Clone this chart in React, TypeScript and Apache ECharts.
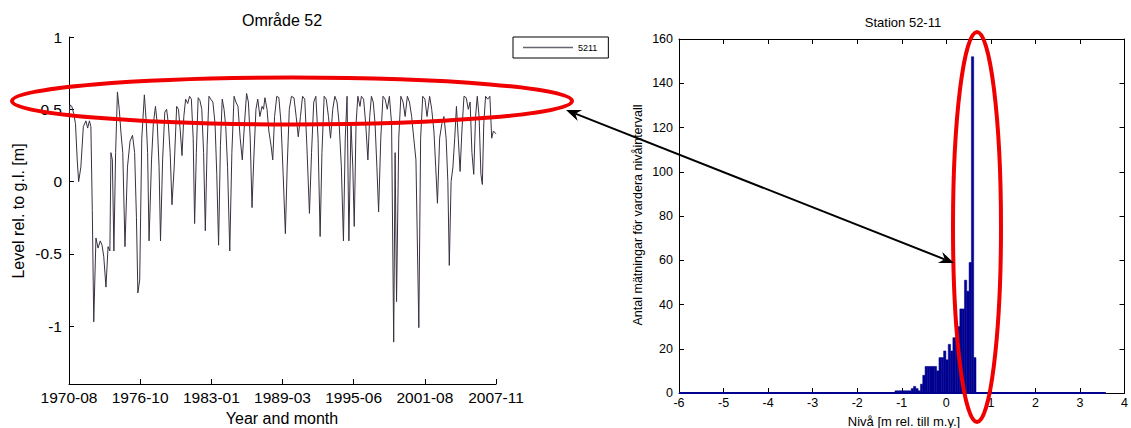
import React, { useEffect, useRef } from "react";
import * as echarts from "echarts";

const FONT = '"Liberation Sans", Arial, Helvetica, sans-serif';

// Left chart: level relative to ground level, x = months since 1970-08
const xTickLabels = ["1970-08", "1976-10", "1983-01", "1989-03", "1995-06", "2001-08", "2007-11"];
const monthsPerTick = 74.5;
const yTickValues = [-1, -0.5, 0, 0.5, 1];
const seriesName = "5211";
const levelSeries: [number, number][] = [
  [0, 0.45], [1.1, 0.53], [3.0, 0.52], [4.9, 0.47], [6.8, 0.40], [8.6, 0.15], [10.1, 0.00], [12.4, 0.10],
  [15.0, 0.38], [17.7, 0.42], [19.5, 0.37], [21.4, 0.42], [22.9, 0.38], [24.4, -0.20], [25.9, -0.97], [28.2, -0.39],
  [30.4, -0.46], [32.7, -0.41], [34.6, -0.44], [36.4, -0.52], [38.7, -0.73], [40.9, -0.45], [42.8, -0.48], [43.9, 0.20],
  [45.4, 0.15], [47.0, -0.48], [48.8, 0.20], [50.7, 0.62], [52.6, 0.50], [54.5, 0.33], [56.3, 0.20], [58.6, -0.45],
  [61.2, 0.10], [63.9, 0.28], [66.5, 0.32], [68.7, 0.20], [70.6, -0.25], [72.1, -0.77], [74.0, -0.68], [76.2, 0.30],
  [78.9, 0.60], [80.8, 0.42], [82.3, 0.20], [83.8, -0.41], [86.4, 0.15], [88.3, 0.40], [90.5, 0.52], [92.4, 0.40],
  [94.3, 0.10], [95.8, -0.41], [98.0, 0.15], [100.3, 0.48], [102.2, 0.50], [104.0, 0.40], [105.9, 0.20], [107.8, -0.16],
  [110.1, 0.10], [112.7, 0.52], [114.6, 0.50], [116.5, 0.35], [118.3, 0.18], [120.2, 0.45], [122.1, 0.57], [124.3, 0.54],
  [126.2, 0.59], [128.1, 0.57], [130.0, 0.30], [131.5, -0.29], [133.3, 0.20], [135.2, 0.58], [137.1, 0.56], [139.0, 0.50],
  [140.9, 0.20], [142.7, -0.34], [144.6, 0.25], [146.5, 0.59], [148.4, 0.57], [150.6, 0.55], [152.9, 0.40], [154.7, 0.05],
  [156.6, -0.44], [158.5, 0.25], [160.4, 0.57], [162.3, 0.50], [164.1, 0.38], [166.0, 0.10], [168.3, -0.48], [170.5, 0.20],
  [172.8, 0.59], [174.7, 0.55], [176.9, 0.52], [179.2, 0.30], [181.4, 0.15], [183.7, 0.40], [185.9, 0.61], [187.8, 0.55],
  [189.7, 0.30], [191.6, -0.18], [193.4, 0.15], [195.7, 0.50], [197.6, 0.57], [199.8, 0.45], [202.1, 0.52], [203.6, 0.50],
  [205.1, 0.58], [207.3, 0.50], [209.2, 0.35], [211.5, 0.25], [213.3, 0.15], [215.2, 0.45], [217.5, 0.59], [219.7, 0.58],
  [222.0, 0.40], [224.2, 0.05], [226.5, -0.36], [228.4, 0.10], [230.6, 0.50], [232.9, 0.59], [235.5, 0.58], [237.8, 0.45],
  [240.0, 0.31], [242.3, 0.45], [244.5, 0.59], [246.8, 0.57], [249.0, 0.25], [251.7, -0.22], [253.9, 0.20], [256.2, 0.55],
  [258.4, 0.59], [260.7, 0.30], [262.9, -0.38], [264.8, 0.20], [267.1, 0.59], [269.3, 0.57], [271.6, 0.45], [273.8, 0.30],
  [276.1, 0.50], [278.3, 0.59], [280.6, 0.55], [282.8, 0.40], [285.1, 0.10], [287.3, -0.41], [289.2, 0.30], [291.1, 0.59],
  [293.0, -0.41], [295.2, 0.40], [297.1, 0.10], [298.6, -0.31], [300.5, 0.40], [302.4, 0.59], [304.6, 0.52], [306.1, 0.59],
  [308.4, 0.57], [310.6, 0.40], [312.9, 0.15], [314.8, 0.45], [316.6, 0.59], [318.5, 0.55], [320.4, 0.40], [322.3, 0.10],
  [324.1, -0.21], [326.4, 0.30], [328.7, 0.59], [330.9, 0.57], [333.2, 0.50], [335.4, 0.59], [337.7, 0.40], [339.9, -1.11],
  [341.4, 0.20], [342.9, -0.83], [345.2, 0.30], [347.4, 0.59], [349.7, 0.55], [351.9, 0.45], [354.2, 0.59], [356.4, 0.55],
  [358.7, 0.45], [360.9, 0.30], [363.2, 0.15], [366.2, -1.01], [368.1, 0.30], [370.3, 0.59], [372.6, 0.57], [374.8, 0.45],
  [377.5, 0.59], [379.7, 0.50], [382.0, 0.35], [383.9, 0.10], [385.7, -0.15], [388.0, 0.30], [390.3, 0.40], [392.5, 0.45],
  [394.8, 0.30], [396.6, 0.00], [398.1, -0.58], [400.0, 0.00], [401.9, 0.10], [403.8, 0.30], [405.6, 0.52], [407.5, 0.30],
  [409.4, 0.07], [411.3, 0.35], [413.5, 0.59], [415.8, 0.58], [418.0, 0.50], [419.9, 0.55], [421.8, 0.20], [423.7, 0.05],
  [425.6, 0.45], [427.4, 0.59], [429.3, 0.45], [431.2, 0.05], [432.7, -0.02], [434.2, 0.40], [436.1, 0.59], [438.3, 0.57],
  [440.6, 0.59], [442.5, 0.30], [444.3, 0.35], [447.0, 0.33],
];

// Right chart: histogram of levels
const histStart = -1.153;
const histBinWidth = 0.052;
const histCounts = [
  1, 1, 1, 1, 1, 1, 1, 2, 3, 2, 1, 4, 8, 12, 12, 12, 12, 12, 10, 16, 16, 19, 15, 22, 19, 25, 25, 30, 38, 38, 51, 46, 59, 152, 16,
];
const histZeroRange: [number, number] = [-6, 3.58];

const LINE_COLOR = "#3a3040";
const BAR_COLOR = "#000090";
const RED = "#f00000";

function arrowHead(tx: number, ty: number, ux: number, uy: number) {
  const nx = -uy;
  const ny = ux;
  const L = 15;
  const W = 6;
  return [
    [tx, ty],
    [tx - L * ux + W * nx, ty - L * uy + W * ny],
    [tx - 10 * ux, ty - 10 * uy],
    [tx - L * ux - W * nx, ty - L * uy - W * ny],
  ];
}

export default function App() {
  const ref = useRef<HTMLDivElement>(null);
  useEffect(() => {
    if (!ref.current) return;
    const chart = echarts.init(ref.current, undefined, { renderer: "svg" });

    const axisLineStyle = { color: "#000", width: 1 };
    const a0 = [566, 110];
    const a1 = [954, 263];
    const dx = a1[0] - a0[0];
    const dy = a1[1] - a0[1];
    const len = Math.hypot(dx, dy);
    const ux = dx / len;
    const uy = dy / len;

    const text = (t: string, x: number, y: number, size: number, rotation = 0) => ({
      type: "text",
      x,
      y,
      rotation,
      z: 50,
      style: {
        text: t,
        align: "center",
        verticalAlign: "middle",
        fontSize: size,
        fontFamily: FONT,
        fill: "#000",
      },
    });

    chart.setOption({
      animation: false,
      backgroundColor: "#fff",
      textStyle: { fontFamily: FONT },
      grid: [
        { left: 69, top: 37, width: 427, height: 347 },
        { left: 679, top: 39, width: 450, height: 354 },
      ],
      legend: {
        data: [{ name: seriesName, icon: "rect" }],
        left: 513,
        top: 37,
        itemWidth: 50,
        itemHeight: 1.5,
        itemGap: 0,
        padding: [5, 11, 5, 10],
        borderColor: "#000",
        borderWidth: 1,
        borderRadius: 0,
        backgroundColor: "#fff",
        selectedMode: false,
        itemStyle: { color: "#6a6370" },
        textStyle: { fontSize: 9, fontFamily: FONT, color: "#000", lineHeight: 11 },
      },
      xAxis: [
        {
          type: "value",
          gridIndex: 0,
          min: 0,
          max: 447,
          interval: monthsPerTick,
          axisLine: { show: true, onZero: false, lineStyle: axisLineStyle },
          axisTick: { show: true, inside: true, length: 5, lineStyle: axisLineStyle },
          axisLabel: {
            show: true,
            fontSize: 15.5,
            fontFamily: FONT,
            color: "#000",
            margin: 5,
            showMinLabel: true,
            showMaxLabel: true,
            formatter: (v: number) => xTickLabels[Math.round(v / monthsPerTick)] ?? "",
          },
          splitLine: { show: false },
        },
        {
          type: "value",
          gridIndex: 1,
          min: -6,
          max: 4,
          interval: 1,
          axisLine: { show: true, onZero: false, lineStyle: axisLineStyle },
          axisTick: { show: true, inside: true, length: 5, lineStyle: axisLineStyle },
          axisLabel: {
            show: true,
            fontSize: 12.5,
            fontFamily: FONT,
            color: "#000",
            margin: 3,
            showMinLabel: true,
            showMaxLabel: true,
          },
          splitLine: { show: false },
        },
        {
          type: "value",
          gridIndex: 1,
          position: "top",
          min: -6,
          max: 4,
          interval: 1,
          axisLine: { show: true, onZero: false, lineStyle: axisLineStyle },
          axisTick: { show: true, inside: true, length: 5, lineStyle: axisLineStyle },
          axisLabel: { show: false },
          splitLine: { show: false },
        },
      ],
      yAxis: [
        {
          type: "value",
          gridIndex: 0,
          min: -1.4,
          max: 1,
          axisLine: { show: true, onZero: false, lineStyle: axisLineStyle },
          axisTick: { show: true, inside: true, length: 5, lineStyle: axisLineStyle, customValues: yTickValues },
          axisLabel: {
            show: true,
            fontSize: 15.5,
            fontFamily: FONT,
            color: "#000",
            margin: 7,
            customValues: yTickValues,
            formatter: (v: number) => String(v),
          },
          splitLine: { show: false },
        },
        {
          type: "value",
          gridIndex: 1,
          min: 0,
          max: 160,
          interval: 20,
          axisLine: { show: true, onZero: false, lineStyle: axisLineStyle },
          axisTick: { show: true, inside: true, length: 5, lineStyle: axisLineStyle },
          axisLabel: { show: true, fontSize: 12.5, fontFamily: FONT, color: "#000", margin: 6 },
          splitLine: { show: false },
        },
        {
          type: "value",
          gridIndex: 1,
          position: "right",
          min: 0,
          max: 160,
          interval: 20,
          axisLine: { show: true, onZero: false, lineStyle: axisLineStyle },
          axisTick: { show: true, inside: true, length: 5, lineStyle: axisLineStyle },
          axisLabel: { show: false },
          splitLine: { show: false },
        },
      ],
      series: [
        {
          name: seriesName,
          type: "line",
          xAxisIndex: 0,
          yAxisIndex: 0,
          data: levelSeries,
          symbol: "none",
          lineStyle: { color: LINE_COLOR, width: 1 },
          itemStyle: { color: LINE_COLOR },
          clip: true,
        },
        {
          type: "line",
          xAxisIndex: 1,
          yAxisIndex: 1,
          data: [
            [histZeroRange[0], 0],
            [histZeroRange[1], 0],
          ],
          symbol: "none",
          clip: false,
          lineStyle: { color: BAR_COLOR, width: 2 },
          z: 3,
        },
        {
          type: "custom",
          xAxisIndex: 1,
          yAxisIndex: 1,
          data: histCounts.map((c, i) => [histStart + i * histBinWidth, histStart + (i + 1) * histBinWidth, c]),
          encode: { x: [0, 1], y: 2 },
          renderItem: (_params: any, api: any) => {
            const p0 = api.coord([api.value(0), api.value(2)]);
            const p1 = api.coord([api.value(1), 0]);
            return {
              type: "rect",
              shape: { x: p0[0], y: p0[1], width: p1[0] - p0[0], height: p1[1] - p0[1] },
              style: { fill: BAR_COLOR, stroke: BAR_COLOR, lineWidth: 0.5 },
            };
          },
          z: 4,
        },
      ],
      graphic: [
        text("Område 52", 282, 20, 16),
        text("Year and month", 282, 418, 16),
        text("Level rel. to g.l. [m]", 18.5, 211, 16, Math.PI / 2),
        text("Station 52-11", 903, 22, 13),
        text("Antal mätningar för vardera nivåintervall", 638, 215, 12.5, Math.PI / 2),
        text("Nivå [m rel. till m.y.]", 904, 421, 13),
        {
          type: "ellipse",
          z: 60,
          shape: { cx: 292, cy: 101, rx: 280, ry: 23.5 },
          style: { fill: "transparent", stroke: RED, lineWidth: 4 },
        },
        {
          type: "ellipse",
          z: 60,
          shape: { cx: 977, cy: 227, rx: 24, ry: 195 },
          style: { fill: "transparent", stroke: RED, lineWidth: 4 },
        },
        {
          type: "line",
          z: 61,
          shape: { x1: a0[0] + 10 * ux, y1: a0[1] + 10 * uy, x2: a1[0] - 10 * ux, y2: a1[1] - 10 * uy },
          style: { stroke: "#000", lineWidth: 2 },
        },
        {
          type: "polygon",
          z: 61,
          shape: { points: arrowHead(a1[0], a1[1], ux, uy) },
          style: { fill: "#000" },
        },
        {
          type: "polygon",
          z: 61,
          shape: { points: arrowHead(a0[0], a0[1], -ux, -uy) },
          style: { fill: "#000" },
        },
      ],
    });

    return () => chart.dispose();
  }, []);

  return (
    <div
      ref={ref}
      style={{ position: "absolute", left: 0, top: 0, width: 1131, height: 428, background: "#fff" }}
    />
  );
}
